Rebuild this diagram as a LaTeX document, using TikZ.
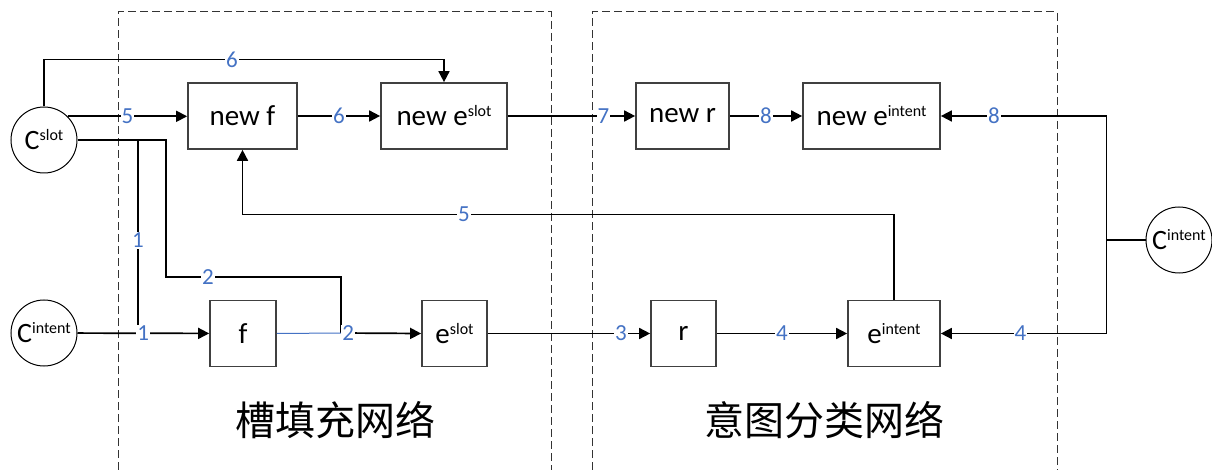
\documentclass[tikz,border=0pt]{standalone}
\usepackage{fontspec}
\setmainfont{Carlito}
\newfontfamily\cjk{Noto Sans CJK SC}
\usetikzlibrary{arrows.meta}

\definecolor{numblue}{HTML}{4472C4}
\newcommand{\sups}[1]{\raisebox{9pt}{\fontsize{16}{16}\selectfont #1}}

\tikzset{
  blk/.style={draw=black!75, line width=1.7pt, minimum height=66pt, inner sep=1pt, font=\fontsize{29}{30}\selectfont},
  ctx/.style={draw, circle, line width=1pt, minimum size=66pt, inner sep=0pt, font=\fontsize{28}{28}\selectfont},
  num/.style={fill=white, text=numblue, inner sep=1pt, font=\fontsize{23}{23}\selectfont},
  arr/.style={-{Triangle[length=11pt,width=11pt]}},
  netbox/.style={black!80, line width=1pt, dash pattern=on 8pt off 4pt},
  netname/.style={font=\cjk\fontsize{40}{40}\selectfont}
}

\begin{document}
\begin{tikzpicture}[x=1pt, y=-1pt, line width=1.7pt]
    \useasboundingbox (0,0) rectangle (1212,470);

    % the two networks
    \draw[netbox] (118,470) -- (118,12) -- (551,12) -- (551,470);
    \draw[netbox] (592,470) -- (592,12) -- (1057,12) -- (1057,470);
    \node[netname] (slotnet) at (335,420) {槽填充网络};
    \node[netname] (intnet) at (824,420) {意图分类网络};

    % blocks
    \node[blk, minimum width=109pt] (newf) at (242.5,116) {new f};
    \node[blk, minimum width=126pt] (newes) at (444,116) {new e\sups{slot}};
    \node[blk, minimum width=93pt] (newr) at (682.5,116) {new r};
    \node[blk, minimum width=137pt] (newei) at (871.5,116) {new e\sups{intent}};
    \node[blk, minimum width=66pt] (f) at (243,333.5) {f};
    \node[blk, minimum width=65pt] (es) at (454.5,333.5) {e\sups{slot}};
    \node[blk, minimum width=65pt] (r) at (683.5,333.5) {r};
    \node[blk, minimum width=92pt] (ei) at (894,333.5) {e\sups{intent}};

    % contexts
    \node[ctx] (cs) at (44,140) {C\sups{slot}};
    \node[ctx] (cil) at (44,333) {C\sups{intent}};
    \node[ctx] (cir) at (1179,240) {C\sups{intent}};

    \coordinate (k1) at (138,333);
    \coordinate (k2) at (341,333);
    \coordinate (c2) at (166,277);

    % top row
    \draw[arr] (cs.45) -- node[num]{5} (cs.45 -| newf.west);
    \draw[arr] (cs.north) -- ++(0,-47) -| node[num, pos=0.235]{6} (newes.north);
    \draw[arr] (newf) -- node[num]{6} (newes);
    \draw[arr] (newes) -- node[num, pos=0.75]{7} (newr);
    \draw[arr] (newr) -- node[num]{8} (newei);
    \draw (cir.west) -- ++(-39,0) coordinate (jn);
    \draw[arr] (jn) |- node[num, pos=0.84]{8} (newei.east);

    % bottom row
    \draw (cs.east) -| node[num, pos=0.76]{1} (k1);
    \draw (cs.east) -| (c2) -| node[num, pos=0.12]{2} (k2);
    \draw[arr] (cil) -- node[num]{1} (f);
    \draw[numblue, line width=1pt] (f.east) -- (k2);
    \draw[arr] (k2) -- node[num, pos=0.09]{2} (es.west);
    \draw[arr] (es) -- node[num, pos=0.82]{3} (r);
    \draw[arr] (r) -- node[num]{4} (ei);
    \draw[arr] (jn) |- node[num, pos=0.76]{4} (ei.east);
    \draw[arr] (ei.north) -- ++(0,-85) -| node[num, pos=0.33]{5} (newf.south);

\end{tikzpicture}
\end{document}
